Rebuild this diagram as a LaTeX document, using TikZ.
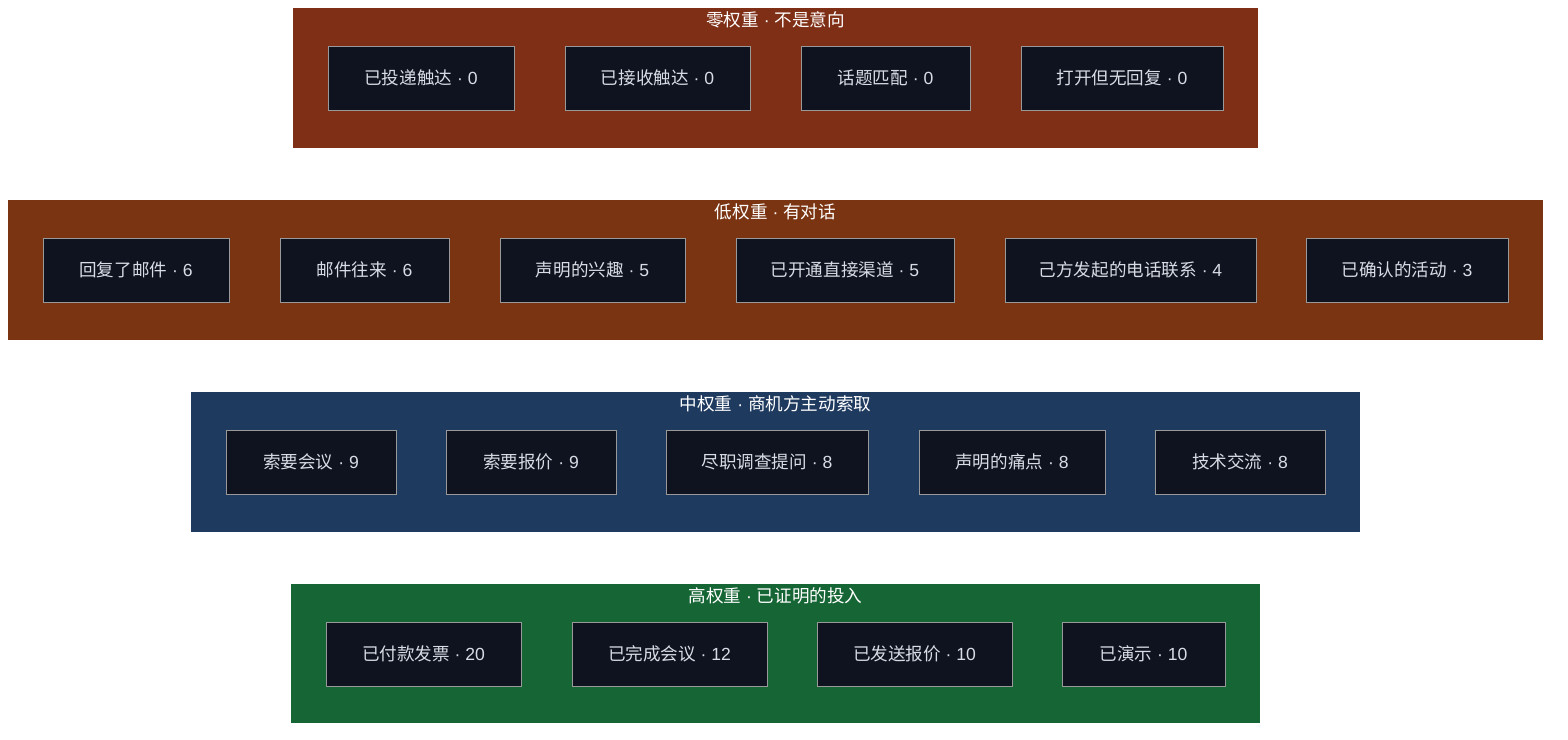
\documentclass[tikz,border=0pt]{standalone}
\usepackage{fontspec}
\setmainfont{Noto Sans CJK SC}
\newfontfamily\lat{Liberation Sans}
\definecolor{zerobg}{HTML}{7F2F15}
\definecolor{lowbg}{HTML}{7A3412}
\definecolor{midbg}{HTML}{1F3A5F}
\definecolor{highbg}{HTML}{166534}
\definecolor{cellbg}{HTML}{0F1320}
\definecolor{celltext}{HTML}{D8DCE4}
\tikzset{
  band/.style={draw=none, inner sep=0pt},
  cell/.style={draw=gray!80, fill=cellbg, text=celltext, inner sep=0pt,
    font=\fontsize{10pt}{12pt}\selectfont},
  ttl/.style={text=white, font=\fontsize{10pt}{12pt}\selectfont}
}
\newcommand{\sep}{{\lat\ ·\ }}
% band: name, x1, y1, x2, y2, colour, title
\newcommand{\band}[7]{\fill[#6] (#2,#3) rectangle (#4,#5);
  \node[ttl] (#1) at ({(#2+#4)/2},#3+12) {#7};}
% cell: name, x1, x2, y1, text
\newcommand{\cell}[5]{\node[cell, minimum width={(#3-#2)*0.02cm}, minimum height=1.28cm]
  (#1) at ({(#2+#3)/2},#4+32) {#5};}

\begin{document}
\begin{tikzpicture}[x=0.02cm, y=-0.02cm]
	\useasboundingbox (0,0) rectangle (1568,740);

	\band{zero}{293}{8}{1258}{148}{zerobg}{零权重\sep 不是意向}
	\cell{z1}{328}{514}{46}{已投递触达\sep{\lat 0}}
	\cell{z2}{565}{750}{46}{已接收触达\sep{\lat 0}}
	\cell{z3}{801}{970}{46}{话题匹配\sep{\lat 0}}
	\cell{z4}{1021}{1223}{46}{打开但无回复\sep{\lat 0}}

	\band{low}{8}{200}{1543}{340}{lowbg}{低权重\sep 有对话}
	\cell{l1}{43}{229}{238}{回复了邮件\sep{\lat 6}}
	\cell{l2}{280}{449}{238}{邮件往来\sep{\lat 6}}
	\cell{l3}{500}{685}{238}{声明的兴趣\sep{\lat 5}}
	\cell{l4}{736}{954}{238}{已开通直接渠道\sep{\lat 5}}
	\cell{l5}{1005}{1256}{238}{己方发起的电话联系\sep{\lat 4}}
	\cell{l6}{1306}{1508}{238}{已确认的活动\sep{\lat 3}}

	\band{mid}{191}{392}{1360}{532}{midbg}{中权重\sep 商机方主动索取}
	\cell{m1}{226}{396}{430}{索要会议\sep{\lat 9}}
	\cell{m2}{446}{616}{430}{索要报价\sep{\lat 9}}
	\cell{m3}{666}{868}{430}{尽职调查提问\sep{\lat 8}}
	\cell{m4}{919}{1105}{430}{声明的痛点\sep{\lat 8}}
	\cell{m5}{1155}{1325}{430}{技术交流\sep{\lat 8}}

	\band{high}{291}{584}{1260}{723}{highbg}{高权重\sep 已证明的投入}
	\cell{h1}{326}{521}{622}{已付款发票\sep{\lat 20}}
	\cell{h2}{572}{767}{622}{已完成会议\sep{\lat 12}}
	\cell{h3}{817}{1012}{622}{已发送报价\sep{\lat 10}}
	\cell{h4}{1062}{1225}{622}{已演示\sep{\lat 10}}
\end{tikzpicture}
\end{document}
